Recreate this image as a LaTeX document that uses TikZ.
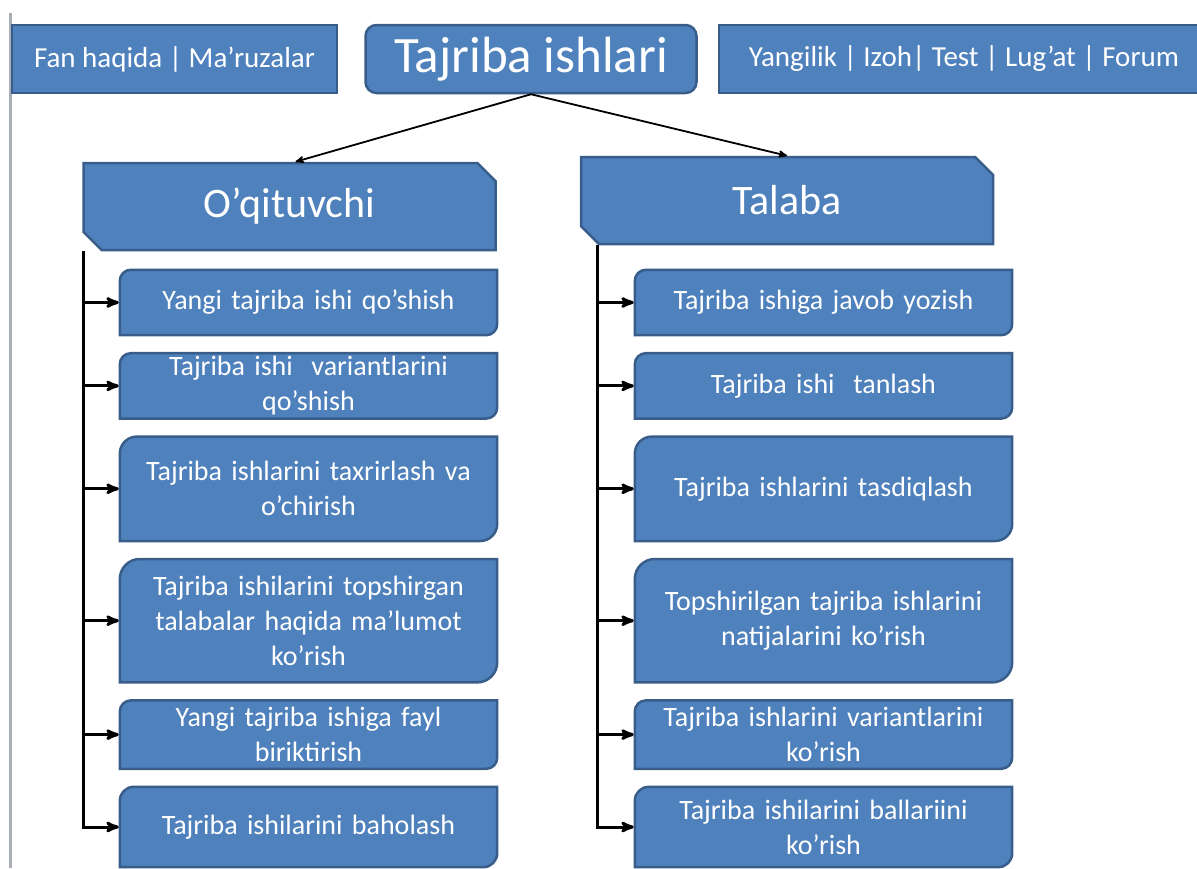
\documentclass[tikz,border=0pt]{standalone}
\usepackage{fontspec}
\setmainfont{Carlito}
\usetikzlibrary{
  arrows,
  shapes.misc,
  positioning,
  backgrounds
}
\definecolor{boxfill}{HTML}{4F81BD}
\definecolor{boxline}{HTML}{385D8A}
\definecolor{rulegray}{HTML}{A7AEB5}

% box with rounded top left and bottom right corners
\newcommand{\diagbox}[2]{%
  \begin{scope}[on background layer]
    \filldraw[boxshape] ([yshift=-#2]#1.north west)
      arc[start angle=180,end angle=90,radius=#2] -- (#1.north east)
      -- ([yshift=#2]#1.south east)
      arc[start angle=0,end angle=-90,radius=#2] -- (#1.south west) -- cycle;
  \end{scope}}

\begin{document}
\begin{tikzpicture}[
      x=1pt,y=1pt,
      boxshape/.style={
         draw=boxline,
         fill=boxfill,
         line width=2.5pt
      },
      menu/.style={
         rectangle,
         boxshape,
         inner sep=0pt,
         minimum height=68pt,
         text=white,
         font=\fontsize{29}{34}\selectfont
      },
      title/.style={
         menu,
         rounded corners=11pt,
         font=\fontsize{51}{60}\selectfont
      },
      role/.style={
         chamfered rectangle,
         chamfered rectangle corners={north east,south west},
         chamfered rectangle xsep=15pt,
         boxshape,
         inner sep=0pt,
         minimum width=412pt,
         minimum height=87pt,
         text=white,
         font=\fontsize{42}{50}\selectfont
      },
      task/.style={
         rectangle,
         inner sep=0pt,
         minimum width=377pt,
         text width=370pt,
         align=center,
         text=white,
         font=\fontsize{28}{35}\selectfont
      },
      feed/.style={->,>=stealth',line width=3pt,shorten >=1pt},
      split/.style={->,>=stealth',line width=1.8pt},
      node distance=18pt
    ]
    \useasboundingbox (0,0) rectangle (1197,-868);
    \draw[rulegray,line width=3pt] (10,-13) -- (10,-868);

    % top menu
    \node (fan) [menu, minimum width=325pt] at (174.5,-59) {Fan haqida | Ma’ruzalar};
    \node (tj) [title, minimum width=331pt, right=26pt of fan] {Tajriba ishlari};
    \node (news) [menu, minimum width=490pt, right=20pt of tj] {Yangilik | Izoh| Test | Lug’at | Forum};

    % roles
    \node (oq) [role] at (289.5,-206.5) {O’qituvchi};
    \node (ta) [role] at (787,-200.5) {Talaba};

    % teacher column
    \node (lq1) [task, minimum height=65pt] at (308.5,-302.5) {Yangi tajriba ishi qo’shish};
    \node (lq2) [task, minimum height=65pt, below=of lq1] {Tajriba ishi\ \ variantlarini\\qo’shish};
    \node (lq3) [task, minimum height=104pt, below=of lq2] {Tajriba ishlarini taxrirlash va\\o’chirish};
    \node (lq4) [task, minimum height=123pt, below=of lq3] {Tajriba ishilarini topshirgan\\talabalar haqida ma’lumot\\ko’rish};
    \node (lq5) [task, minimum height=68pt, below=of lq4] {Yangi tajriba ishiga fayl\\biriktirish};
    \node (lq6) [task, minimum height=80pt, below=of lq5] {Tajriba ishilarini baholash};

    % student column
    \node (rq1) [task, minimum height=65pt] at (823.5,-302.5) {Tajriba ishiga javob yozish};
    \node (rq2) [task, minimum height=65pt, below=of rq1] {Tajriba ishi\ \ tanlash};
    \node (rq3) [task, minimum height=104pt, below=of rq2] {Tajriba ishlarini tasdiqlash};
    \node (rq4) [task, minimum height=123pt, below=of rq3] {Topshirilgan tajriba ishlarini\\natijalarini ko’rish};
    \node (rq5) [task, minimum height=68pt, below=of rq4] {Tajriba ishlarini variantlarini\\ko’rish};
    \node (rq6) [task, minimum height=80pt, below=of rq5] {Tajriba ishilarini ballariini\\ko’rish};

    \foreach \i/\r in {1/11,2/11,3/17,4/20,5/11,6/14} {
       \diagbox{lq\i}{\r pt}
       \diagbox{rq\i}{\r pt}
    }

    \coordinate (lstem) at ([xshift=1pt]oq.west |- oq.south);
    \coordinate (rstem) at ([xshift=18pt]ta.west |- ta.south);

    \draw[split] (tj.south) -- ([xshift=6pt]oq.north);
    \draw[split] (tj.south) -- (ta.north);

    \foreach \i in {1,...,6} {
       \draw[feed] (lstem) |- (lq\i.west);
       \draw[feed] (rstem) |- (rq\i.west);
    }
\end{tikzpicture}
\end{document}
